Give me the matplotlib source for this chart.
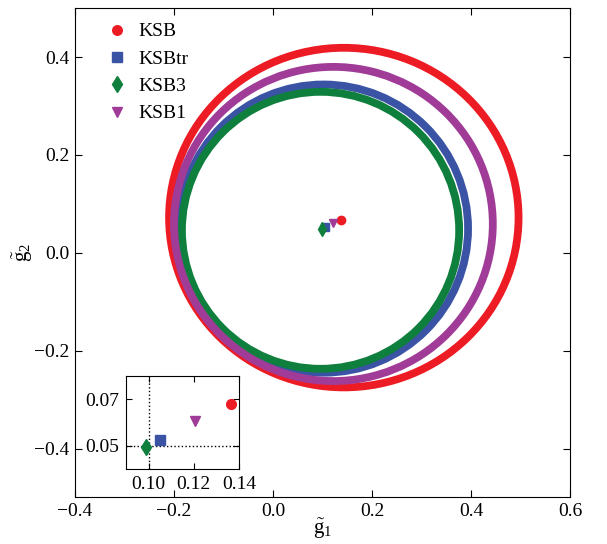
import matplotlib
matplotlib.use('Agg')
import matplotlib.pyplot as plt
from matplotlib.patches import Ellipse

plt.rcParams['font.family'] = ['Liberation Serif', 'DejaVu Serif']
plt.rcParams['mathtext.fontset'] = 'custom'
plt.rcParams['mathtext.rm'] = 'Liberation Serif'
plt.rcParams['mathtext.it'] = 'Liberation Serif:italic'

names = ['KSB', 'KSBtr', 'KSB3', 'KSB1']

ring_left = [-0.210, -0.190, -0.184, -0.200]
ring_right = [0.496, 0.394, 0.376, 0.444]
ring_top = [0.419, 0.344, 0.329, 0.380]
ring_bottom = [-0.275, -0.245, -0.237, -0.262]

# mean shear of each method
mean_g1 = [0.1364, 0.1051, 0.0988, 0.1207]
mean_g2 = [0.0681, 0.0525, 0.0494, 0.0606]
true_g1 = 0.10
true_g2 = 0.05

colors = ['#ED1C24', '#3A53A4', '#0F7F3E', '#A03C98']
markers = ['o', 's', 'd', 'v']
ring_z = [2.0, 2.1, 2.2, 2.3]

fig = plt.figure(figsize=(6.07, 5.44), dpi=100)
ax = fig.add_axes([0.1236, 0.0855, 0.8155, 0.8995])

for i in range(4):
    cx = (ring_left[i] + ring_right[i]) / 2
    cy = (ring_top[i] + ring_bottom[i]) / 2
    ax.add_patch(Ellipse((cx, cy), ring_right[i] - ring_left[i], ring_top[i] - ring_bottom[i],
                         fill=False, edgecolor=colors[i], lw=5.6, zorder=ring_z[i]))

for i in range(4):
    ax.plot(mean_g1[i], mean_g2[i], ls='none', marker=markers[i], color=colors[i],
            ms=6 if markers[i] != 'd' else 7, label=names[i], zorder=3)

ax.set_xlim(-0.4, 0.6)
ax.set_ylim(-0.5, 0.5)
ax.set_xticks([-0.4, -0.2, 0.0, 0.2, 0.4, 0.6])
ax.set_yticks([-0.4, -0.2, 0.0, 0.2, 0.4])
ax.set_xticklabels(['\u22120.4', '\u22120.2', '0.0', '0.2', '0.4', '0.6'])
ax.set_yticklabels(['\u22120.4', '\u22120.2', '0.0', '0.2', '0.4'])
ax.tick_params(direction='in', top=True, right=True, labelsize=14, length=5, pad=4)
ax.set_xlabel(r'$\tilde{\mathrm{g}}_1$', fontsize=15, labelpad=-3)
ax.set_ylabel(r'$\tilde{\mathrm{g}}_2$', fontsize=15, labelpad=-1)

ax.legend(loc='upper left', bbox_to_anchor=(0.049, 0.986), borderaxespad=0,
          frameon=False, fontsize=14, handlelength=1.0, handletextpad=0.6,
          labelspacing=0.5, markerscale=1.15)

# inset zoom on the means
ins = fig.add_axes([0.2076, 0.1379, 0.186, 0.171])
ins.axvline(true_g1, color='k', ls=':', lw=1)
ins.axhline(true_g2, color='k', ls=':', lw=1)
for i in range(4):
    ins.plot(mean_g1[i], mean_g2[i], ls='none', marker=markers[i], color=colors[i],
             ms=7 if markers[i] != 'd' else 8, zorder=3)
ins.set_xlim(0.09, 0.14)
ins.set_ylim(0.04, 0.08)
ins.set_xticks([0.10, 0.12, 0.14])
ins.set_yticks([0.05, 0.07])
ins.tick_params(direction='in', top=True, right=True, labelsize=14, length=4, pad=5)

fig.savefig('out.png', dpi=100)
